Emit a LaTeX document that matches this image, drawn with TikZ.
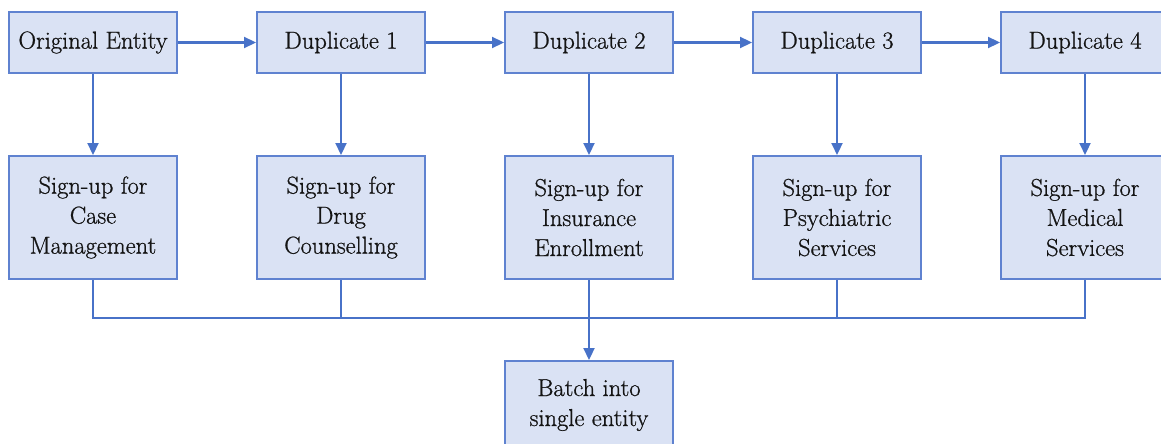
\documentclass[tikz,border=0pt]{standalone}
\usepackage{fontspec}
\setmainfont{Latin Modern Roman}[FakeBold=0.8]
\usetikzlibrary{arrows.meta}
\definecolor{boxfill}{RGB}{218,226,244}
\definecolor{boxline}{RGB}{95,130,208}
\definecolor{conn}{RGB}{72,114,200}
\definecolor{txt}{RGB}{20,20,20}
\begin{document}
\begin{tikzpicture}[x=1pt,y=-1pt,
  box/.style={draw=boxline, fill=boxfill, line width=2pt, minimum width=168pt, inner sep=0pt,
     align=center, text=txt, font=\fontsize{24.5}{30}\selectfont},
  toprow/.style={box, minimum height=61pt},
  midrow/.style={box, minimum height=123pt},
  link/.style={draw=conn, line width=2.2pt},
  arr/.style={link, -{Triangle[length=12pt,width=11pt]}}]
\useasboundingbox (0,0) rectangle (1161,444);
\fill[white] (0,0) rectangle (1161,444);
\begin{scope}
\clip (0,0) rectangle (1161,444);
\node[toprow] (o)  at (93,42.5)   {Original Entity};
\node[toprow] (d1) at (341,42.5)  {Duplicate 1};
\node[toprow] (d2) at (589,42.5)  {Duplicate 2};
\node[toprow] (d3) at (837,42.5)  {Duplicate 3};
\node[toprow] (d4) at (1085,42.5) {Duplicate 4};
\node[midrow] (s0) at (93,217.5)   {Sign-up for\\Case\\Management};
\node[midrow] (s1) at (341,217.5)  {Sign-up for\\Drug\\Counselling};
\node[midrow] (s2) at (589,217.5)  {Sign-up for\\Insurance\\Enrollment};
\node[midrow] (s3) at (837,217.5)  {Sign-up for\\Psychiatric\\Services};
\node[midrow] (s4) at (1085,217.5) {Sign-up for\\Medical\\Services};
\node[box, minimum height=88pt] (b) at (589,405) {Batch into\\single entity};
\coordinate (j0) at (93,318);
\coordinate (j1) at (341,318);
\coordinate (j3) at (837,318);
\coordinate (j4) at (1085,318);
\draw[arr] (o) -- (d1);
\draw[arr] (d1) -- (d2);
\draw[arr] (d2) -- (d3);
\draw[arr] (d3) -- (d4);
\draw[arr] (o) -- (s0);
\draw[arr] (d1) -- (s1);
\draw[arr] (d2) -- (s2);
\draw[arr] (d3) -- (s3);
\draw[arr] (d4) -- (s4);
\draw[link] (s0.south) -- (j0) -- (j4) -- (s4.south);
\draw[link] (s1.south) -- (j1);
\draw[link] (s3.south) -- (j3);
\draw[arr] (s2) -- (b);
\end{scope}
\end{tikzpicture}
\end{document}
